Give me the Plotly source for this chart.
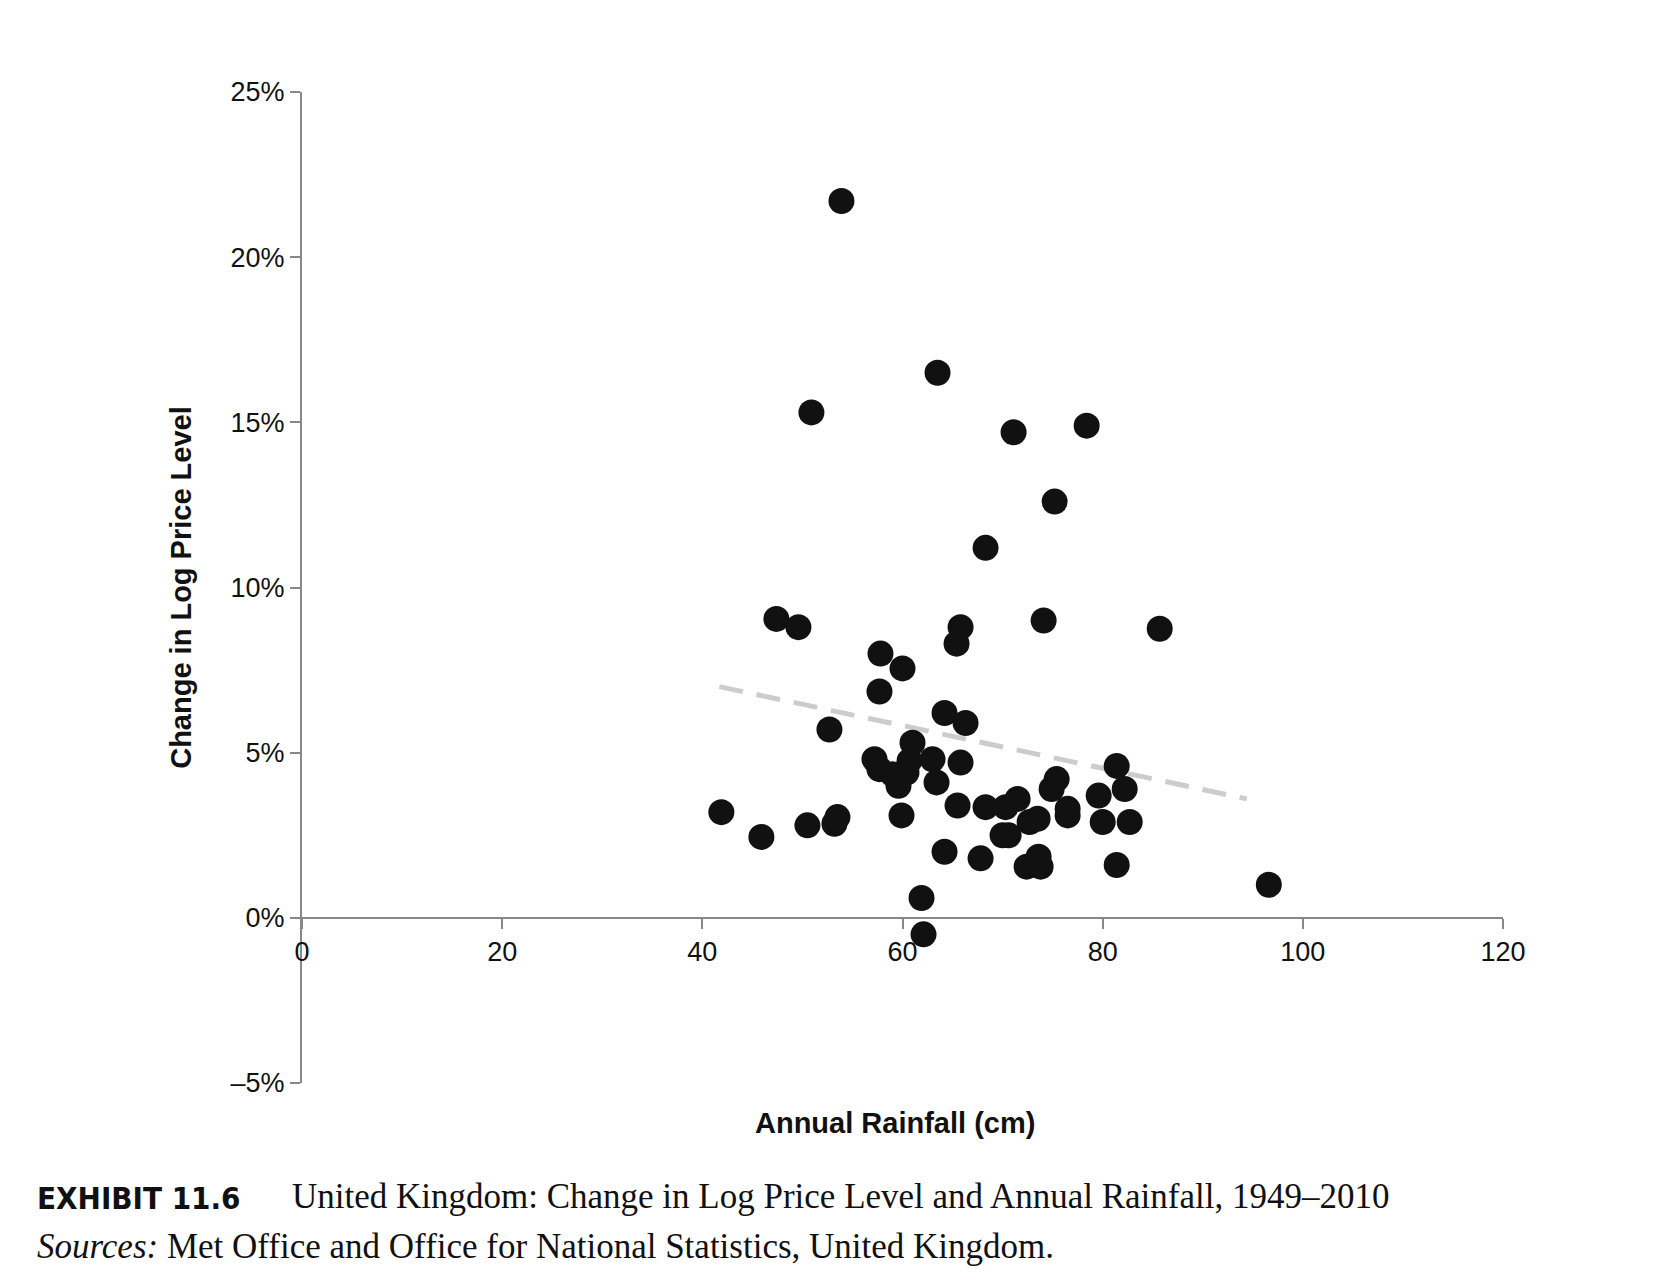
import plotly.graph_objects as go

# annual rainfall (cm) and change in log price level (%)
rainfall = [53.9, 63.5, 50.9, 71.1, 78.4, 75.2, 68.3, 47.4, 49.6, 74.1, 85.7, 65.8,
            65.4, 57.8, 60.0, 57.7, 52.7, 64.2, 66.3, 61.0, 57.2, 57.7, 59.0, 60.7,
            60.4, 59.6, 63.0, 65.8, 63.4, 59.9, 65.5, 68.3, 70.3, 71.5, 72.7, 73.5,
            75.4, 74.9, 76.5, 76.5, 79.6, 80.0, 81.4, 82.2, 82.7, 81.4, 70.0, 70.6,
            67.8, 64.2, 72.4, 73.6, 73.8, 61.9, 62.1, 96.6, 41.9, 45.9, 50.5, 53.2, 53.5]
price_change = [21.7, 16.5, 15.3, 14.7, 14.9, 12.6, 11.2, 9.05, 8.8, 9.0, 8.75, 8.8,
                8.3, 8.0, 7.55, 6.85, 5.7, 6.2, 5.9, 5.3, 4.8, 4.5, 4.35, 4.75,
                4.4, 4.0, 4.8, 4.7, 4.1, 3.1, 3.4, 3.35, 3.35, 3.6, 2.9, 3.0,
                4.2, 3.9, 3.3, 3.1, 3.7, 2.9, 4.6, 3.9, 2.9, 1.6, 2.5, 2.5,
                1.8, 2.0, 1.55, 1.85, 1.55, 0.6, -0.5, 1.0, 3.2, 2.45, 2.8, 2.85, 3.05]
trend_x = [41.7, 94.4]
trend_y = [7.0, 3.6]

y_ticks = [-5, 0, 5, 10, 15, 20, 25]
y_labels = ["–5%", "0%", "5%", "10%", "15%", "20%", "25%"]
x_ticks = [0, 20, 40, 60, 80, 100, 120]

fig = go.Figure()
fig.add_trace(go.Scatter(x=trend_x, y=trend_y, mode="lines",
                         line=dict(color="#cccccc", width=5, dash="24px,14px"), hoverinfo="none"))
fig.add_trace(go.Scatter(x=rainfall, y=price_change, mode="markers",
                         marker=dict(color="#111111", size=26, line=dict(width=0))))

axis_font = dict(family="Liberation Sans, Arial", size=27, color="#111")
fig.update_layout(
    width=1666, height=1282, showlegend=False,
    plot_bgcolor="white", paper_bgcolor="white",
    margin=dict(l=294, r=171, t=84, b=207),
    xaxis=dict(range=[0, 120], tickvals=x_ticks, anchor="free", position=1/6,
               showgrid=False, zeroline=False, showline=True, linecolor="#888", linewidth=2,
               ticks="outside", ticklen=10, tickcolor="#888", tickwidth=2, tickfont=axis_font),
    yaxis=dict(range=[-5, 25], tickvals=y_ticks, ticktext=y_labels,
               showgrid=False, zeroline=False, showline=True, linecolor="#888", linewidth=2,
               ticks="outside", ticklen=10, tickcolor="#888", tickwidth=2, tickfont=axis_font,
               title=dict(text="<b>Change in Log Price Level</b>", standoff=30,
                          font=dict(family="Liberation Sans, Arial", size=29, color="#111"))),
    annotations=[
        dict(text="<b>Annual Rainfall (cm)</b>", x=0.494, y=-0.022, xref="paper", yref="paper",
             xanchor="center", yanchor="top", showarrow=False,
             font=dict(family="Liberation Sans, Arial", size=29, color="#111")),
        dict(text="<b>EXHIBIT 11.6</b>", x=-0.222, y=-0.096, xref="paper", yref="paper",
             xanchor="left", yanchor="top", showarrow=False,
             font=dict(family="Liberation Sans Narrow, DejaVu Sans Condensed", size=31, color="#111")),
        dict(text="United Kingdom: Change in Log Price Level and Annual Rainfall, 1949–2010",
             x=-0.01, y=-0.093, xref="paper", yref="paper",
             xanchor="left", yanchor="top", showarrow=False,
             font=dict(family="Liberation Serif, Times New Roman", size=35, color="#111")),
        dict(text="<i>Sources:</i> Met Office and Office for National Statistics, United Kingdom.",
             x=-0.222, y=-0.143, xref="paper", yref="paper",
             xanchor="left", yanchor="top", showarrow=False,
             font=dict(family="Liberation Serif, Times New Roman", size=35, color="#111")),
    ],
)

fig.write_html("out.html")
